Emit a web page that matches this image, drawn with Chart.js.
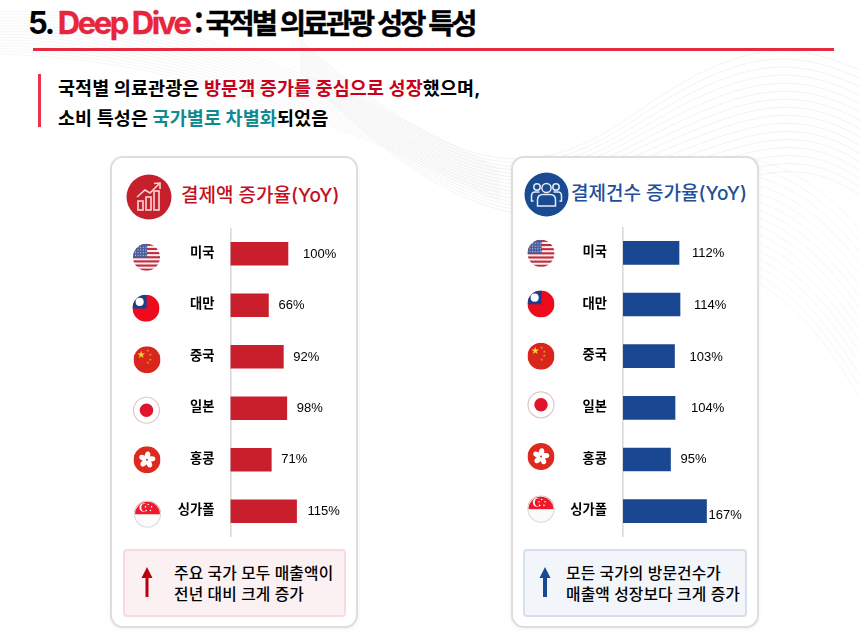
<!DOCTYPE html>
<html lang="ko">
<head>
<meta charset="utf-8">
<title>Deep Dive</title>
<script src="https://cdn.jsdelivr.net/npm/chart.js@4"></script>
<style>
  html, body { margin: 0; padding: 0; background: #fff; }
  body { width: 860px; height: 635px; position: relative; overflow: hidden;
         font-family: Inter, "Noto Sans CJK KR", sans-serif; color: #000; }
  .abs { position: absolute; white-space: nowrap; }
  #waves { position: absolute; left: 0; top: 0; }
  .title { left: 28px; top: 0; line-height: 44px; font-weight: 700; }
  .title .lat { font-size: 31px; letter-spacing: -2.4px; }
  .title .red { color: #e8253d; font-size: 31px; letter-spacing: -2.4px; -webkit-text-stroke: 0.3px #e8253d; margin-left: 1px; }
  .title .kor { font-family: "Noto Sans CJK KR"; font-size: 28.5px; letter-spacing: -3.1px; -webkit-text-stroke: 0.4px #000; margin-left: 1px; }
  .rule { left: 33px; top: 48px; width: 801px; height: 2.5px; background: #e62a40; }
  .quote { left: 38px; top: 74px; width: 3px; height: 53px; background: #e8354a; }
  .lead { left: 58px; font-size: 18.5px; line-height: 26px; font-weight: 700; letter-spacing: 0.1px; }
  .red2 { color: #c8001a; }
  .teal { color: #0f8a8f; }
  .card { top: 156px; width: 244px; height: 468px; background: #fff; border: 2px solid #dedede;
          border-radius: 13px; box-shadow: 0 1px 4px rgba(0,0,0,.06); }
  .head { font-size: 19px; line-height: 26px; font-weight: 500; }
  .note { top: 549px; height: 64px; border-radius: 4px; border: 2px solid; box-sizing: content-box; }
  .note-text { font-size: 15.8px; line-height: 21px; font-weight: 500; letter-spacing: 0.1px; }
  canvas { position: absolute; }
</style>
</head>
<body>
<svg id="waves" width="860" height="635" fill="none"></svg>

<div class="abs title"><span class="lat">5. </span><span class="red">Deep Dive</span> <span class="kor">: 국적별 의료관광 성장 특성</span></div>
<div class="abs rule"></div>
<div class="abs quote"></div>
<div class="abs lead" style="top:75px">국적별 의료관광은 <span class="red2">방문객 증가를 중심으로 성장</span>했으며,</div>
<div class="abs lead" style="top:105px">소비 특성은 <span class="teal">국가별로 차별화</span>되었음</div>

<div class="abs card" style="left:110px"></div>
<div class="abs card" style="left:511px"></div>

<svg class="abs" style="left:126px;top:174px" width="46" height="46" viewBox="0 0 46 46">
  <circle cx="23" cy="23" r="22.5" fill="#c5202c"/>
  <g fill="none" stroke="#f6d6d6" stroke-width="1.6">
    <rect x="12" y="27" width="5" height="9"/>
    <rect x="20" y="23" width="5" height="13"/>
    <rect x="28" y="17" width="5" height="19"/>
    <path d="M11 23 L19 16 L24 19 L33 10 M28 9.5 L34 9 L34 15"/>
  </g>
</svg>
<svg class="abs" style="left:524px;top:172px" width="45" height="45" viewBox="0 0 45 45">
  <circle cx="22.5" cy="22.5" r="22" fill="#1a4a90"/>
  <g fill="none" stroke="#e4ecf6" stroke-width="1.5">
    <circle cx="22.5" cy="16" r="4.6"/>
    <path d="M13.5 34 V28 Q13.5 22.5 19 22.5 H26 Q31.5 22.5 31.5 28 V34 Z"/>
    <circle cx="13" cy="15" r="3.2"/>
    <circle cx="32" cy="15" r="3.2"/>
    <path d="M9.5 29 H7.5 V24 Q7.5 20 11 20 H15.5 M29.5 20 H34 Q37.5 20 37.5 24 V29 H35.5"/>
  </g>
</svg>
<div class="abs head" style="left:181px;top:183px;color:#c4101e">결제액 증가율(YoY)</div>
<div class="abs head" style="left:571px;top:181px;color:#1f4f98">결제건수 증가율(YoY)</div>

<canvas id="spendChart" style="left:110px;top:228px"></canvas>
<canvas id="countChart" style="left:512px;top:227px"></canvas>

<div class="abs note" style="left:123px;width:219px;background:#fbf1f2;border-color:#f6dcdf"></div>
<div class="abs note" style="left:523px;width:220px;background:#f2f5fa;border-color:#d6dfec"></div>
<svg class="abs" style="left:140px;top:566px" width="14" height="32"><path d="M5.5 31 V12 H1.5 L7 1 L12.5 12 H8.5 V31 Z" fill="#b8000f"/></svg>
<svg class="abs" style="left:538px;top:566px" width="14" height="32"><path d="M5 31 V12 H1.5 L7 1 L12.5 12 H9 V31 Z" fill="#174a92"/></svg>
<div class="abs note-text" style="left:174px;top:563px">주요 국가 모두 매출액이<br>전년 대비 크게 증가</div>
<div class="abs note-text" style="left:566px;top:563px">모든 국가의 방문건수가<br>매출액 성장보다 크게 증가</div>

<script>
// chart values
const countries = ["미국", "대만", "중국", "일본", "홍콩", "싱가폴"];
const flags = ["us", "tw", "cn", "jp", "hk", "sg"];
const spendGrowth = [100, 66, 92, 98, 71, 115];
const countGrowth = [112, 114, 103, 104, 95, 167];

// faint wave lines behind everything
const wavePaths = [];
for (let i = 0; i < 16; i++) {
  const d = i * 7;
  wavePaths.push(`<path d="M300 ${40 + d * 0.3} C470 ${190 + d * 0.5} 540 ${180 + d * 0.4} 640 ${110 + d * 0.9} S790 ${40 + d} 860 ${70 + d * 1.2}" stroke="#dcdde0" stroke-width="0.7" opacity="0.5"/>`);
  wavePaths.push(`<path d="M640 ${170 + d} C740 ${140 + d} 800 ${160 + d * 1.3} 860 ${230 + d * 1.6}" stroke="#e0e1e4" stroke-width="0.6" opacity="0.5"/>`);
  wavePaths.push(`<path d="M0 ${12 + d * 0.4} C120 ${6 + d * 0.5} 260 ${40 + d * 0.4} 500 ${170 + d * 0.3}" stroke="#e2e3e6" stroke-width="0.7" opacity="0.45"/>`);
}
document.getElementById("waves").innerHTML = wavePaths.join("");

function drawFlag(c, kind, x, y, r) {
  c.save();
  c.beginPath();
  c.arc(x, y, r, 0, Math.PI * 2);
  c.clip();
  if (kind === "us") {
    c.fillStyle = "#f4f0f0";
    c.fillRect(x - r, y - r, r * 2, r * 2);
    c.fillStyle = "#c6283c";
    for (let i = 0; i < 7; i++) c.fillRect(x - r, y - r + i * (2 * r / 6.5), r * 2, r / 6.5);
    c.fillStyle = "#4a5f9c";
    c.fillRect(x - r, y - r, r * 1.05, r * 1.02);
    c.fillStyle = "#c8d0e6";
    for (let i = 0; i < 4; i++) for (let j = 0; j < 5; j++) c.fillRect(x - r + 2 + j * 2.6, y - r + 3 + i * 2.7, 1, 1);
  } else if (kind === "tw") {
    c.fillStyle = "#ee0c1c";
    c.fillRect(x - r, y - r, r * 2, r * 2);
    c.fillStyle = "#1b3f8c";
    c.fillRect(x - r, y - r, r * 1.05, r * 1.02);
    c.fillStyle = "#fff";
    c.beginPath();
    c.arc(x - r * 0.47, y - r * 0.47, r * 0.3, 0, Math.PI * 2);
    c.fill();
  } else if (kind === "cn") {
    c.fillStyle = "#d9261c";
    c.fillRect(x - r, y - r, r * 2, r * 2);
    c.fillStyle = "#f6d32a";
    c.font = "10px 'DejaVu Sans'";
    c.textAlign = "center";
    c.textBaseline = "middle";
    c.fillText("★", x - r * 0.42, y - r * 0.35);
    c.font = "4px 'DejaVu Sans'";
    c.fillStyle = "#e8902a";
    c.fillText("★", x + r * 0.05, y - r * 0.62);
    c.fillText("★", x + r * 0.25, y - r * 0.32);
    c.fillText("★", x + r * 0.25, y + r * 0.02);
    c.fillText("★", x + r * 0.05, y + r * 0.25);
  } else if (kind === "jp") {
    c.fillStyle = "#fff";
    c.fillRect(x - r, y - r, r * 2, r * 2);
    c.fillStyle = "#e0142a";
    c.beginPath();
    c.arc(x, y, r * 0.5, 0, Math.PI * 2);
    c.fill();
  } else if (kind === "hk") {
    c.fillStyle = "#de2a1e";
    c.fillRect(x - r, y - r, r * 2, r * 2);
    c.fillStyle = "#fff";
    for (let i = 0; i < 5; i++) {
      c.save();
      c.translate(x, y);
      c.rotate(i * Math.PI * 2 / 5);
      c.beginPath();
      c.ellipse(0.5, -r * 0.32, r * 0.2, r * 0.3, 0.2, 0, Math.PI * 2);
      c.fill();
      c.restore();
    }
    c.fillStyle = "#de2a1e";
    c.beginPath();
    c.arc(x, y, 1, 0, Math.PI * 2);
    c.fill();
  } else if (kind === "sg") {
    c.fillStyle = "#fbfbfb";
    c.fillRect(x - r, y - r, r * 2, r * 2);
    c.fillStyle = "#ee1a2c";
    c.fillRect(x - r, y - r, r * 2, r);
    c.fillStyle = "#fff";
    c.beginPath();
    c.arc(x - r * 0.28, y - r * 0.5, r * 0.32, 0, Math.PI * 2);
    c.fill();
    c.fillStyle = "#ee1a2c";
    c.beginPath();
    c.arc(x - r * 0.16, y - r * 0.5, r * 0.3, 0, Math.PI * 2);
    c.fill();
    c.fillStyle = "#fff";
    [[0.05, -0.72], [0.3, -0.55], [0.22, -0.28], [-0.1, -0.28], [-0.15, -0.55]].forEach(p => {
      c.beginPath();
      c.arc(x + r * p[0], y + r * p[1], 0.8, 0, Math.PI * 2);
      c.fill();
    });
  }
  c.restore();
  if (kind === "jp" || kind === "sg") {
    c.strokeStyle = kind === "jp" ? "#e4c4ca" : "#dddddd";
    c.lineWidth = 1.2;
    c.beginPath();
    c.arc(x, y, r - 0.5, 0, Math.PI * 2);
    c.stroke();
  }
}

// flags left of the country names, percent labels right of the bars
const sideMarks = {
  id: "sideMarks",
  afterDatasetsDraw(chart, args, opts) {
    const c = chart.ctx;
    const meta = chart.getDatasetMeta(0);
    meta.data.forEach((bar, i) => {
      c.save();
      c.fillStyle = "#000";
      c.font = "13px 'Liberation Sans'";
      c.textAlign = "left";
      c.textBaseline = "middle";
      c.fillText(chart.data.datasets[0].data[i] + "%", bar.x + opts.gaps[i], bar.y + opts.labelDy[i]);
      c.restore();
      drawFlag(c, flags[i], opts.flagX[i], bar.y + opts.flagDy[i], 13.5);
    });
  }
};

function growthChart(id, values, color, max, leftWidth, marks) {
  return new Chart(document.getElementById(id), {
    type: "bar",
    data: {
      labels: countries,
      datasets: [{ data: values, backgroundColor: color, barThickness: 23, borderWidth: 0 }]
    },
    options: {
      indexAxis: "y",
      responsive: false,
      animation: false,
      layout: { padding: 0 },
      plugins: { legend: { display: false }, tooltip: { enabled: false }, sideMarks: marks },
      scales: {
        x: { display: false, min: 0, max: max },
        y: {
          afterFit(scale) {
            // tick padding would otherwise eat the plot height
            scale.width = leftWidth;
            scale.paddingTop = 0;
            scale.paddingBottom = 0;
          },
          grid: { display: false, drawTicks: false },
          border: { display: true, color: "#d9d9db", width: 1.6 },
          ticks: {
            color: "#000",
            padding: 16,
            labelOffset: -2,
            font: { family: "'Noto Sans CJK KR'", size: 13.3, weight: "700" }
          }
        }
      }
    },
    plugins: [sideMarks]
  });
}

function sized(id, w, h) {
  const el = document.getElementById(id);
  el.width = w;
  el.height = h;
  el.style.width = w + "px";
  el.style.height = h + "px";
}
sized("spendChart", 236, 309);
sized("countChart", 236, 310);

growthChart("spendChart", spendGrowth, "#c91e2b", 201, 120.5, {
  gaps: [15, 10, 10, 10, 10, 11],
  labelDy: [0.5, 0.5, 0.5, 0.5, 0, 0.5],
  flagX: [36.5, 36, 37, 36.5, 37, 37.5],
  flagDy: [3.5, 3, 3, 2, 0, 3]
});
growthChart("countChart", countGrowth, "#1a4792", 250, 111, {
  gaps: [13, 14, 15, 16, 10, 2],
  labelDy: [0.5, 0.5, 1, 1, 0, 4.5],
  flagX: [29, 29, 29, 29, 29, 29],
  flagDy: [0.5, -0.5, 0, -3, -3, -2]
});
</script>
</body>
</html>
